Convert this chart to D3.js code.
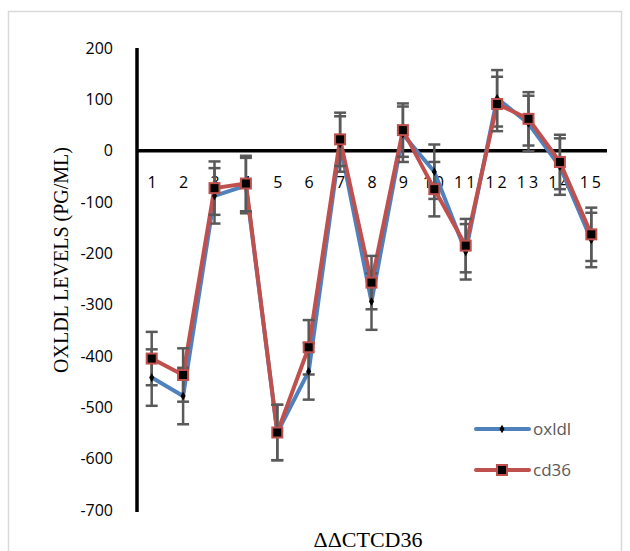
<!DOCTYPE html>
<html>
<head>
<meta charset="utf-8">
<script src="https://cdn.jsdelivr.net/npm/d3@7"></script>
<style>
  body { margin: 0; background: #fff; }
  #chart { width: 630px; height: 551px; }
</style>
</head>
<body>
<div id="chart"></div>
<script>
var width = 630, height = 551;

// data
var categories = ["1","2","3","4","5","6","7","8","9","10","11","12","13","14","15"];
var oxldl    = [-442, -478, -88, -68, -549, -430, 13, -294, 32, -41, -197, 102, 53, -31, -174];
var oxldlErr = [55, 55, 54, 54, 54, 55, 54, 55, 54, 53, 54, 55, 54, 55, 53];
var cd36     = [-405, -437, -73, -64, -549, -383, 22, -257, 40, -75, -185, 91, 62, -22, -163];
var cd36Err  = [52, 52, 52, 54, 54, 53, 52, 52, 52, 53, 52, 53, 52, 53, 52];
var yTicks   = [200, 100, 0, -100, -200, -300, -400, -500, -600, -700];

var svg = d3.select("#chart")
  .append("svg")
  .attr("width", width)
  .attr("height", height);

// outer frame
svg.append("rect")
  .attr("x", 8.5).attr("y", 11.5)
  .attr("width", 613).attr("height", 560)
  .attr("fill", "none")
  .attr("stroke", "#d9d9d9")
  .attr("stroke-width", 1.5);

var x = d3.scalePoint()
  .domain(categories)
  .range([136, 607])
  .padding(0.5);

var y = d3.scaleLinear()
  .domain([-700, 200])
  .range([510, 48]);

// y axis (labels only, line drawn separately)
var yAxis = d3.axisLeft(y)
  .tickValues(yTicks)
  .tickSize(0)
  .tickPadding(0)
  .tickFormat(d => String(d));

var gy = svg.append("g")
  .attr("transform", "translate(113,0)")
  .call(yAxis);
gy.select(".domain").remove();
gy.selectAll("text")
  .attr("font-family", "Open Sans, sans-serif")
  .attr("font-size", "16px")
  .attr("fill", "#000");

svg.append("line")
  .attr("x1", 137).attr("x2", 137)
  .attr("y1", y(200)).attr("y2", y(-700) + 2)
  .attr("stroke", "#000")
  .attr("stroke-width", 3.5);

// x axis at zero
var xAxis = d3.axisBottom(x).tickSize(0).tickPadding(0);
var gx = svg.append("g")
  .attr("transform", "translate(0," + y(0) + ")")
  .call(xAxis);
gx.select(".domain").remove();
gx.selectAll("text")
  .attr("y", 37)
  .attr("dy", 0)
  .attr("font-family", "Open Sans, sans-serif")
  .attr("font-size", "16px")
  .attr("letter-spacing", d => d.length > 1 ? "3px" : "0px")
  .attr("fill", "#000");

svg.append("line")
  .attr("x1", 136).attr("x2", 607)
  .attr("y1", y(0)).attr("y2", y(0))
  .attr("stroke", "#000")
  .attr("stroke-width", 3.5);

var line = d3.line()
  .x((d, i) => x(categories[i]))
  .y(d => y(d));

function errorBars(vals, errs) {
  var g = svg.append("g")
    .attr("stroke", "#595959")
    .attr("stroke-width", 2.5);
  vals.forEach(function (v, i) {
    var cx = x(categories[i]);
    g.append("line")
      .attr("x1", cx).attr("x2", cx)
      .attr("y1", y(v + errs[i])).attr("y2", y(v - errs[i]));
    [v + errs[i], v - errs[i]].forEach(function (e) {
      g.append("line")
        .attr("x1", cx - 6).attr("x2", cx + 6)
        .attr("y1", y(e)).attr("y2", y(e));
    });
  });
}

// oxldl series
svg.append("path")
  .datum(oxldl)
  .attr("d", line)
  .attr("fill", "none")
  .attr("stroke", "#4f81bd")
  .attr("stroke-width", 4)
  .attr("stroke-linejoin", "round");
errorBars(oxldl, oxldlErr);

// cd36 series
svg.append("path")
  .datum(cd36)
  .attr("d", line)
  .attr("fill", "none")
  .attr("stroke", "#c0504d")
  .attr("stroke-width", 4)
  .attr("stroke-linejoin", "round");
errorBars(cd36, cd36Err);

// markers
var diamond = d3.symbol().type(d3.symbolDiamond).size(22);
svg.selectAll(".mo")
  .data(oxldl)
  .enter()
  .append("path")
  .attr("class", "mo")
  .attr("d", diamond)
  .attr("transform", (d, i) => "translate(" + x(categories[i]) + "," + y(d) + ")")
  .attr("fill", "#000");

svg.selectAll(".mc")
  .data(cd36)
  .enter()
  .append("rect")
  .attr("class", "mc")
  .attr("x", (d, i) => x(categories[i]) - 5)
  .attr("y", d => y(d) - 5)
  .attr("width", 10)
  .attr("height", 10)
  .attr("fill", "#000")
  .attr("stroke", "#c0504d")
  .attr("stroke-width", 2);

// legend
var legend = [
  { name: "oxldl", color: "#4f81bd", y: 429 },
  { name: "cd36", color: "#c0504d", y: 470 }
];
legend.forEach(function (l) {
  svg.append("line")
    .attr("x1", 476).attr("x2", 529)
    .attr("y1", l.y).attr("y2", l.y)
    .attr("stroke", l.color)
    .attr("stroke-width", 4)
    .attr("stroke-linecap", "round");
  if (l.name == "oxldl") {
    svg.append("path")
      .attr("d", diamond)
      .attr("transform", "translate(502," + l.y + ")")
      .attr("fill", "#000");
  } else {
    svg.append("rect")
      .attr("x", 497).attr("y", l.y - 5)
      .attr("width", 10).attr("height", 10)
      .attr("fill", "#000")
      .attr("stroke", "#c0504d")
      .attr("stroke-width", 2);
  }
  svg.append("text")
    .attr("x", 533).attr("y", l.y + 6)
    .attr("font-family", "Open Sans, sans-serif")
    .attr("font-size", "17px")
    .attr("fill", "#595959")
    .text(l.name);
});

// axis titles
svg.append("text")
  .attr("transform", "translate(68,260) rotate(-90)")
  .attr("text-anchor", "middle")
  .attr("font-family", "Liberation Serif, serif")
  .attr("font-size", "20px")
  .attr("fill", "#000")
  .text("OXLDL LEVELS (PG/ML)");

svg.append("text")
  .attr("x", 368).attr("y", 547)
  .attr("text-anchor", "middle")
  .attr("font-family", "Liberation Serif, serif")
  .attr("font-size", "22px")
  .attr("fill", "#000")
  .text("ΔΔCTCD36");
</script>
</body>
</html>
